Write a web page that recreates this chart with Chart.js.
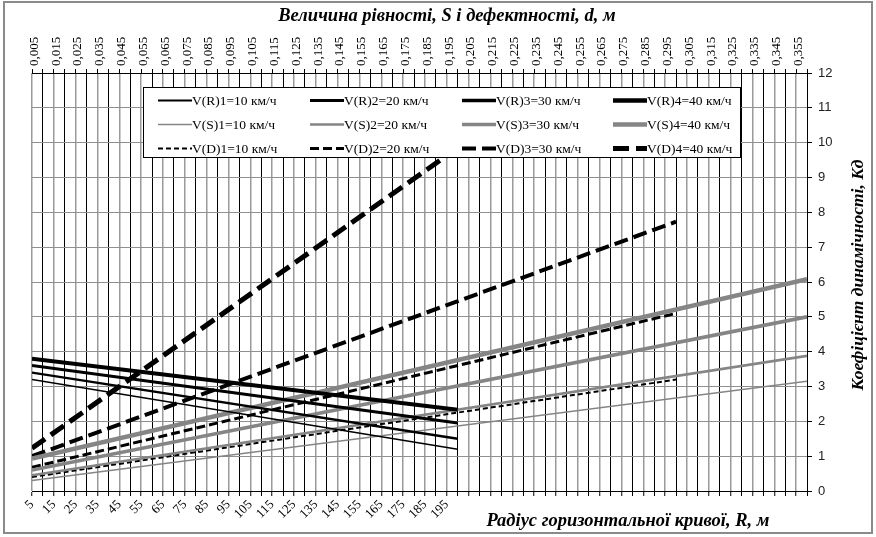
<!DOCTYPE html>
<html>
<head>
<meta charset="utf-8">
<script src="https://cdn.jsdelivr.net/npm/chart.js@4.4.1/dist/chart.umd.min.js"></script>
<style>
html,body{margin:0;padding:0;background:#fff;}
canvas{display:block;}
</style>
</head>
<body>
<canvas id="c" width="876" height="537"></canvas>
<script>
// ---- Data ----
// x positions: radius R (m) for R-series, evenness/defect size S, d (m) for S- and D-series
const radiusR  = [5, 200];
const levelS   = [0.005, 0.36];
const levelD   = [0.005, 0.30];
const levelD4  = [0.005, 0.20];

// Kd values at those x positions
const kdR1 = [3.20, 1.20];
const kdR2 = [3.40, 1.50];
const kdR3 = [3.60, 1.95];
const kdR4 = [3.80, 2.33];

const kdS1 = [0.30, 3.15];
const kdS2 = [0.45, 3.88];
const kdS3 = [0.60, 5.00];
const kdS4 = [0.93, 6.08];

const kdD1 = [0.40, 3.20];
const kdD2 = [0.68, 5.10];
const kdD3 = [1.00, 7.73];
const kdD4 = [1.23, 9.85];

const seriesLabels = [
  'V(R)1=10 км/ч','V(R)2=20 км/ч','V(R)3=30 км/ч','V(R)4=40 км/ч',
  'V(S)1=10 км/ч','V(S)2=20 км/ч','V(S)3=30 км/ч','V(S)4=40 км/ч',
  'V(D)1=10 км/ч','V(D)2=20 км/ч','V(D)3=30 км/ч','V(D)4=40 км/ч'
];

// tick labels
const bottomTickLabels = ['5','15','25','35','45','55','65','75','85','95','105','115','125','135','145','155','165','175','185','195'];
const topTickLabels = ['0,005','0,015','0,025','0,035','0,045','0,055','0,065','0,075','0,085','0,095','0,105','0,115','0,125','0,135','0,145','0,155','0,165','0,175','0,185','0,195','0,205','0,215','0,225','0,235','0,245','0,255','0,265','0,275','0,285','0,295','0,305','0,315','0,325','0,335','0,345','0,355'];
const yTickLabels = ['0','1','2','3','4','5','6','7','8','9','10','11','12'];

const titleTop = 'Величина рівності, S і дефектності, d, м';
const titleBottom = 'Радіус горизонтальної кривої, R, м';
const titleRight = 'Коефіцієнт динамічності, Kд';

// ---- helpers ----
const pts = (xs, ys) => xs.map((x, i) => ({x: x, y: ys[i]}));

const styleR = {color:'#000000', widths:[1.6, 2.4, 3.0, 4.0]};
const styleS = {color:'#858585', widths:[1.6, 2.6, 3.6, 4.6]};
const styleD = {color:'#000000', widths:[2.0, 3.0, 4.0, 5.0], dashes:[[5,3],[9,4],[14,6],[16,7]]};

const rData = [kdR1, kdR2, kdR3, kdR4];
const sData = [kdS1, kdS2, kdS3, kdS4];
const dData = [kdD1, kdD2, kdD3, kdD4];
const dX = [levelD, levelD, levelD, levelD4];

const datasets = [];
rData.forEach((ys, k) => datasets.push({
  label: seriesLabels[k], data: pts(radiusR, ys), xAxisID: 'x', yAxisID: 'y',
  borderColor: styleR.color, borderWidth: styleR.widths[k], legendWidth: styleR.widths[k] + 0.5
}));
sData.forEach((ys, k) => datasets.push({
  label: seriesLabels[4 + k], data: pts(levelS, ys), xAxisID: 'x2', yAxisID: 'y',
  borderColor: styleS.color, borderWidth: styleS.widths[k], legendWidth: styleS.widths[k]
}));
dData.forEach((ys, k) => datasets.push({
  label: seriesLabels[8 + k], data: pts(dX[k], ys), xAxisID: 'x2', yAxisID: 'y',
  borderColor: styleD.color, borderWidth: styleD.widths[k], borderDash: styleD.dashes[k], legendWidth: styleD.widths[k]
}));
datasets.forEach(d => { d.pointRadius = 0; d.tension = 0; d.fill = false; d.borderCapStyle = 'butt'; });

const TICK_COUNT = 72;

const boxLegend = {
  id: 'boxLegend',
  afterDatasetsDraw(chart) {
    const ctx = chart.ctx;
    ctx.save();
    const bx = 143.5, by = 87.5, bw = 597, bh = 70;
    ctx.fillStyle = '#ffffff';
    ctx.fillRect(bx, by, bw, bh);
    ctx.strokeStyle = '#000';
    ctx.lineWidth = 1;
    ctx.strokeRect(bx, by, bw, bh);
    const colX = [158, 310, 462, 613];
    const rowY = [100.5, 124.5, 148.5];
    chart.data.datasets.forEach((ds, k) => {
      const x0 = colX[k % 4], y = rowY[Math.floor(k / 4)];
      ctx.beginPath();
      ctx.setLineDash(ds.borderDash || []);
      ctx.lineWidth = ds.legendWidth;
      ctx.strokeStyle = ds.borderColor;
      ctx.moveTo(x0, y);
      ctx.lineTo(x0 + 34, y);
      ctx.stroke();
      ctx.setLineDash([]);
      ctx.fillStyle = '#000';
      ctx.font = '13.5px "Liberation Serif"';
      ctx.textBaseline = 'middle';
      ctx.textAlign = 'left';
      ctx.fillText(ds.label, x0 + 34, y + 1);
    });
    ctx.restore();
  },
  afterDraw(chart) {
    const ctx = chart.ctx;
    ctx.save();
    ctx.fillStyle = '#000';
    ctx.font = 'italic bold 18.5px "Liberation Serif"';
    ctx.textBaseline = 'middle';
    ctx.textAlign = 'center';
    ctx.fillText(titleTop, 447, 16);
    ctx.fillText(titleBottom, 628, 521);
    ctx.font = 'italic bold 17.5px "Liberation Serif"';
    ctx.translate(858, 275);
    ctx.rotate(-Math.PI / 2);
    ctx.fillText(titleRight, 0, 0);
    ctx.restore();
    ctx.save();
    ctx.strokeStyle = '#8a8a8a';
    ctx.lineWidth = 2;
    ctx.strokeRect(4, 2, 868, 531);
    ctx.restore();
  }
};

new Chart(document.getElementById('c'), {
  type: 'line',
  data: { datasets: datasets },
  plugins: [boxLegend],
  options: {
    responsive: false,
    animation: false,
    devicePixelRatio: 1,
    layout: { padding: { left: 32, right: 0, top: 0, bottom: 0 } },
    plugins: { legend: { display: false }, tooltip: { enabled: false } },
    scales: {
      x: {
        type: 'linear', position: 'bottom', min: 5, max: 360,
        afterBuildTicks: s => { s.ticks = Array.from({length: TICK_COUNT}, (_, i) => ({value: 5 + 5 * i})); },
        afterFit: s => { s.height = 46; s.paddingLeft = 0; s.paddingRight = 0; },
        ticks: {
          autoSkip: false, minRotation: 45, maxRotation: 45, padding: 1,
          color: '#000', font: { family: 'Liberation Serif', size: 13 },
          callback: (v, i) => (i % 2 === 0 ? (bottomTickLabels[i / 2] || '') : '')
        },
        grid: {
          color: c => (c.index % 2 === 0 ? '#9a9a9a' : '#000000'),
          lineWidth: c => (c.index % 2 === 0 ? 1.5 : 1),
          tickColor: '#000', tickWidth: 1, tickLength: 5
        },
        border: { color: '#000', width: 1 }
      },
      x2: {
        type: 'linear', position: 'top', min: 0.005, max: 0.36,
        afterBuildTicks: s => { s.ticks = Array.from({length: TICK_COUNT}, (_, i) => ({value: Math.round((0.005 + 0.005 * i) * 1000) / 1000})); },
        afterFit: s => { s.height = 73; s.paddingLeft = 0; s.paddingRight = 0; },
        ticks: {
          autoSkip: false, minRotation: 90, maxRotation: 90, padding: 3, labelOffset: 18,
          color: '#000', font: { family: 'Liberation Serif', size: 13 },
          callback: (v, i) => (i % 2 === 0 ? (topTickLabels[i / 2] || '') : '')
        },
        grid: { drawOnChartArea: false, color: '#000', tickColor: '#000', tickLength: 4 },
        border: { color: '#000', width: 1 }
      },
      y: {
        type: 'linear', position: 'right', min: 0, max: 12,
        afterFit: s => { s.width = 69; s.paddingTop = 0; s.paddingBottom = 0; },
        ticks: {
          stepSize: 1, padding: 6, color: '#222',
          font: { family: 'Liberation Sans', size: 13 },
          callback: (v) => yTickLabels[v] !== undefined ? yTickLabels[v] : ''
        },
        grid: { color: '#8f8f8f', lineWidth: 1, tickColor: '#000', tickLength: 5 },
        border: { color: '#000', width: 1 }
      }
    }
  }
});
</script>
</body>
</html>
